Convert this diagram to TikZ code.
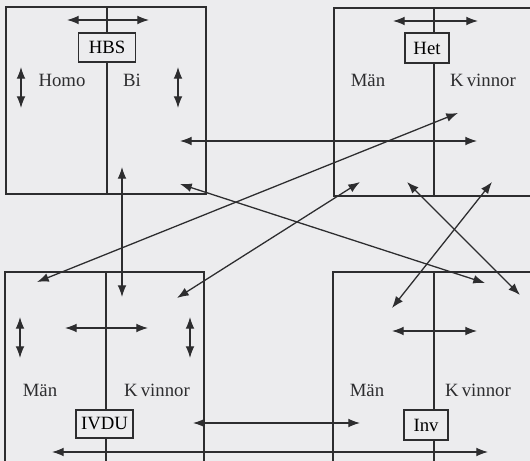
\documentclass[tikz,border=0pt]{standalone}
\usepackage{fontspec}
\setmainfont{Liberation Serif}
\usetikzlibrary{arrows.meta}
\definecolor{paper}{RGB}{236,236,238}
\definecolor{ink}{RGB}{45,45,47}
\tikzset{
  group/.style={draw=ink, line width=1.1pt},
  tag/.style={draw=ink, line width=1.1pt, fill=paper, inner sep=0pt,
    align=center, font=\fontsize{16}{18}\selectfont},
  word/.style={font=\fontsize{16}{18}\selectfont, text=ink, inner sep=0pt},
  both/.style={draw=ink, line width=1.1pt,
    {Latex[length=10pt,width=7.5pt]}-{Latex[length=10pt,width=7.5pt]}}
}

\begin{document}
\begin{tikzpicture}[x=0.03cm, y=-0.03cm]
	\fill[paper] (0,0) rectangle (530,461);
	\useasboundingbox (0,0) rectangle (530,461);
	\clip (0,0) rectangle (530,461);
	% the four groups
	\draw[group] (6,7) rectangle (206,194);
	\draw[group] (107,7) -- (107,194);
	\draw[group] (334,8) rectangle (540,196);
	\draw[group] (434,8) -- (434,196);
	\draw[group] (5,272) rectangle (204,470);
	\draw[group] (106,272) -- (106,470);
	\draw[group] (333,272) rectangle (540,470);
	\draw[group] (434,272) -- (434,470);
	% names
	\node[tag, text width=1.72cm, minimum height=0.87cm] (hbs) at (107,47.5) {HBS};
	\node[tag, text width=1.32cm, minimum height=0.9cm] (het) at (427,48) {Het};
	\node[tag, text width=1.71cm, minimum height=0.84cm] (ivdu) at (104.5,424) {IVDU};
	\node[tag, text width=1.32cm, minimum height=0.9cm] (inv) at (426,425) {Inv};
	\node[word] (homo) at (62,80) {Homo};
	\node[word] (bi) at (132,80) {Bi};
	\node[word] (hetm) at (368,80) {Män};
	\node[word] (hetk) at (483,80) {K\,vinnor};
	\node[word] (ivdum) at (40,390) {Män};
	\node[word] (ivduk) at (157,390) {K\,vinnor};
	\node[word] (invm) at (367,390) {Män};
	\node[word] (invk) at (478,390) {K\,vinnor};
	% ends of the arrows
	\coordinate (hbsL) at (67,20);   \coordinate (hbsR) at (149,20);
	\coordinate (homoT) at (21,67);  \coordinate (homoB) at (21,108);
	\coordinate (biT) at (178,67);   \coordinate (biB) at (178,108);
	\coordinate (hetL) at (393,21);  \coordinate (hetR) at (478,21);
	\coordinate (ivduL) at (65,328); \coordinate (ivduR) at (148,328);
	\coordinate (ivmT) at (20,317);  \coordinate (ivmB) at (20,358);
	\coordinate (ivkT) at (190,317); \coordinate (ivkB) at (190,358);
	\coordinate (invL) at (392,331); \coordinate (invR) at (477,331);
	\coordinate (biA) at (180,141);  \coordinate (hetkA) at (477,141);
	\coordinate (biC) at (180,184);  \coordinate (invkA) at (485,283);
	\coordinate (ivmA) at (37,282);  \coordinate (hetkB) at (458,113);
	\coordinate (ivkA) at (177,298); \coordinate (hetmA) at (360,182);
	\coordinate (biD) at (122,167);  \coordinate (ivdT) at (122,297);
	\coordinate (hetmB) at (407,182); \coordinate (invkB) at (520,295);
	\coordinate (hetkC) at (492,182); \coordinate (invmA) at (392,308);
	\coordinate (ivkC) at (193,423); \coordinate (invmB) at (360,423);
	\coordinate (ivmC) at (52,452);  \coordinate (invkC) at (488,452);
	% inside each group
	\draw[both] (hbsL) -- (hbsR);
	\draw[both] (homoT) -- (homoB);
	\draw[both] (biT) -- (biB);
	\draw[both] (hetL) -- (hetR);
	\draw[both] (ivduL) -- (ivduR);
	\draw[both] (ivmT) -- (ivmB);
	\draw[both] (ivkT) -- (ivkB);
	\draw[both] (invL) -- (invR);
	% between groups
	\draw[both] (biA) -- (hetkA);
	\draw[both] (biC) -- (invkA);
	\draw[both] (ivmA) -- (hetkB);
	\draw[both] (ivkA) -- (hetmA);
	\draw[both] (biD) -- (ivdT);
	\draw[both] (hetmB) -- (invkB);
	\draw[both] (hetkC) -- (invmA);
	\draw[both] (ivkC) -- (invmB);
	\draw[both] (ivmC) -- (invkC);
\end{tikzpicture}
\end{document}
